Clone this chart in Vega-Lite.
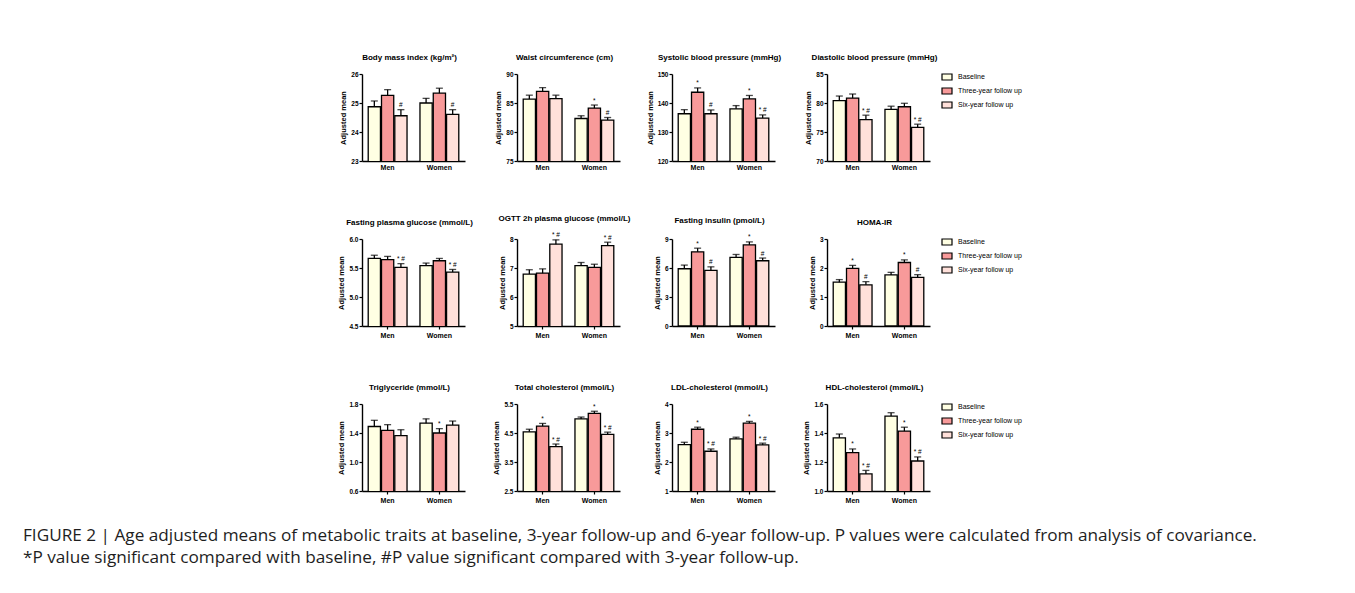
{
"$schema": "https://vega.github.io/schema/vega-lite/v6.json",
"background": "white",
"padding": {"left": 22, "top": 54, "right": 5, "bottom": 5},
"datasets": {"d": [
{"p":1,"s":"Men","t":"Baseline","m":24.87,"h":25.07,"n":""},
{"p":1,"s":"Men","t":"Three-year follow up","m":25.26,"h":25.46,"n":""},
{"p":1,"s":"Men","t":"Six-year follow up","m":24.56,"h":24.77,"n":"#"},
{"p":1,"s":"Women","t":"Baseline","m":25.0,"h":25.16,"n":""},
{"p":1,"s":"Women","t":"Three-year follow up","m":25.34,"h":25.51,"n":""},
{"p":1,"s":"Women","t":"Six-year follow up","m":24.61,"h":24.77,"n":"#"},
{"p":2,"s":"Men","t":"Baseline","m":85.67,"h":86.35,"n":""},
{"p":2,"s":"Men","t":"Three-year follow up","m":87.0,"h":87.65,"n":""},
{"p":2,"s":"Men","t":"Six-year follow up","m":85.75,"h":86.35,"n":""},
{"p":2,"s":"Women","t":"Baseline","m":82.33,"h":82.8,"n":""},
{"p":2,"s":"Women","t":"Three-year follow up","m":84.12,"h":84.65,"n":"*"},
{"p":2,"s":"Women","t":"Six-year follow up","m":82.05,"h":82.5,"n":"#"},
{"p":3,"s":"Men","t":"Baseline","m":136.3,"h":137.7,"n":""},
{"p":3,"s":"Men","t":"Three-year follow up","m":143.7,"h":145.2,"n":"*"},
{"p":3,"s":"Men","t":"Six-year follow up","m":136.3,"h":137.6,"n":"#"},
{"p":3,"s":"Women","t":"Baseline","m":138.0,"h":139.1,"n":""},
{"p":3,"s":"Women","t":"Three-year follow up","m":141.4,"h":142.6,"n":"*"},
{"p":3,"s":"Women","t":"Six-year follow up","m":134.8,"h":135.9,"n":"* #"},
{"p":4,"s":"Men","t":"Baseline","m":80.4,"h":81.2,"n":""},
{"p":4,"s":"Men","t":"Three-year follow up","m":80.85,"h":81.55,"n":""},
{"p":4,"s":"Men","t":"Six-year follow up","m":77.15,"h":77.9,"n":"* #"},
{"p":4,"s":"Women","t":"Baseline","m":78.9,"h":79.45,"n":""},
{"p":4,"s":"Women","t":"Three-year follow up","m":79.35,"h":79.95,"n":""},
{"p":4,"s":"Women","t":"Six-year follow up","m":75.8,"h":76.35,"n":"* #"},
{"p":5,"s":"Men","t":"Baseline","m":5.665,"h":5.72,"n":""},
{"p":5,"s":"Men","t":"Three-year follow up","m":5.645,"h":5.7,"n":""},
{"p":5,"s":"Men","t":"Six-year follow up","m":5.51,"h":5.575,"n":"* #"},
{"p":5,"s":"Women","t":"Baseline","m":5.54,"h":5.585,"n":""},
{"p":5,"s":"Women","t":"Three-year follow up","m":5.625,"h":5.665,"n":""},
{"p":5,"s":"Women","t":"Six-year follow up","m":5.43,"h":5.475,"n":"* #"},
{"p":6,"s":"Men","t":"Baseline","m":6.79,"h":6.94,"n":""},
{"p":6,"s":"Men","t":"Three-year follow up","m":6.82,"h":6.97,"n":""},
{"p":6,"s":"Men","t":"Six-year follow up","m":7.82,"h":7.97,"n":"* #"},
{"p":6,"s":"Women","t":"Baseline","m":7.08,"h":7.19,"n":""},
{"p":6,"s":"Women","t":"Three-year follow up","m":7.02,"h":7.13,"n":""},
{"p":6,"s":"Women","t":"Six-year follow up","m":7.77,"h":7.89,"n":"* #"},
{"p":7,"s":"Men","t":"Baseline","m":5.92,"h":6.3,"n":""},
{"p":7,"s":"Men","t":"Three-year follow up","m":7.67,"h":8.05,"n":"*"},
{"p":7,"s":"Men","t":"Six-year follow up","m":5.75,"h":6.12,"n":"#"},
{"p":7,"s":"Women","t":"Baseline","m":7.09,"h":7.4,"n":""},
{"p":7,"s":"Women","t":"Three-year follow up","m":8.39,"h":8.7,"n":"*"},
{"p":7,"s":"Women","t":"Six-year follow up","m":6.75,"h":7.03,"n":"#"},
{"p":8,"s":"Men","t":"Baseline","m":1.51,"h":1.6,"n":""},
{"p":8,"s":"Men","t":"Three-year follow up","m":1.99,"h":2.09,"n":"*"},
{"p":8,"s":"Men","t":"Six-year follow up","m":1.42,"h":1.53,"n":"#"},
{"p":8,"s":"Women","t":"Baseline","m":1.76,"h":1.85,"n":""},
{"p":8,"s":"Women","t":"Three-year follow up","m":2.19,"h":2.28,"n":"*"},
{"p":8,"s":"Women","t":"Six-year follow up","m":1.68,"h":1.77,"n":"#"},
{"p":9,"s":"Men","t":"Baseline","m":1.49,"h":1.575,"n":""},
{"p":9,"s":"Men","t":"Three-year follow up","m":1.435,"h":1.515,"n":""},
{"p":9,"s":"Men","t":"Six-year follow up","m":1.365,"h":1.445,"n":""},
{"p":9,"s":"Women","t":"Baseline","m":1.535,"h":1.595,"n":""},
{"p":9,"s":"Women","t":"Three-year follow up","m":1.4,"h":1.46,"n":"*"},
{"p":9,"s":"Women","t":"Six-year follow up","m":1.51,"h":1.565,"n":""},
{"p":10,"s":"Men","t":"Baseline","m":4.54,"h":4.63,"n":""},
{"p":10,"s":"Men","t":"Three-year follow up","m":4.74,"h":4.83,"n":"*"},
{"p":10,"s":"Men","t":"Six-year follow up","m":4.03,"h":4.12,"n":"* #"},
{"p":10,"s":"Women","t":"Baseline","m":4.985,"h":5.05,"n":""},
{"p":10,"s":"Women","t":"Three-year follow up","m":5.18,"h":5.25,"n":"*"},
{"p":10,"s":"Women","t":"Six-year follow up","m":4.45,"h":4.53,"n":"* #"},
{"p":11,"s":"Men","t":"Baseline","m":2.6,"h":2.68,"n":""},
{"p":11,"s":"Men","t":"Three-year follow up","m":3.13,"h":3.2,"n":"*"},
{"p":11,"s":"Men","t":"Six-year follow up","m":2.37,"h":2.45,"n":"* #"},
{"p":11,"s":"Women","t":"Baseline","m":2.8,"h":2.855,"n":""},
{"p":11,"s":"Women","t":"Three-year follow up","m":3.34,"h":3.4,"n":"*"},
{"p":11,"s":"Women","t":"Six-year follow up","m":2.59,"h":2.65,"n":"* #"},
{"p":12,"s":"Men","t":"Baseline","m":1.367,"h":1.393,"n":""},
{"p":12,"s":"Men","t":"Three-year follow up","m":1.265,"h":1.29,"n":"*"},
{"p":12,"s":"Men","t":"Six-year follow up","m":1.118,"h":1.142,"n":"* #"},
{"p":12,"s":"Women","t":"Baseline","m":1.517,"h":1.54,"n":""},
{"p":12,"s":"Women","t":"Three-year follow up","m":1.413,"h":1.44,"n":"*"},
{"p":12,"s":"Women","t":"Six-year follow up","m":1.207,"h":1.235,"n":"* #"}
]},
"title": {"text": ["FIGURE 2 | Age adjusted means of metabolic traits at baseline, 3-year follow-up and 6-year follow-up. P values were calculated from analysis of covariance.", "*P value significant compared with baseline, #P value significant compared with 3-year follow-up."], "orient": "bottom", "anchor": "start", "frame": "bounds", "dx": -315, "offset": 24, "fontSize": 17.2, "fontWeight": "normal", "lineHeight": 22, "color": "#1e1e1e", "font": "Open Sans"},
"columns": 4,
"spacing": {"row": 78, "column": 52},
"bounds": "flush",
"resolve": {"scale": {"x": "independent", "y": "independent", "fill": "independent"}, "axis": {"x": "independent", "y": "independent"}, "legend": {"fill": "independent"}},
"concat": [
{"title": "Body mass index (kg/m²)", "width": 103, "height": 87, "data": {"name": "d"}, "transform": [{"filter": "datum.p==1"}],
 "encoding": {"x": {"field": "s", "type": "nominal", "sort": ["Men","Women"], "title": null, "scale": {"paddingInner": 0.25, "paddingOuter": 0.12}, "axis": {"ticks": false}},
  "xOffset": {"field": "t", "type": "nominal", "sort": ["Baseline","Three-year follow up","Six-year follow up"], "scale": {"paddingInner": 0.08, "paddingOuter": 0}}},
 "layer": [
  {"mark": {"type": "bar", "stroke": "black", "strokeWidth": 1.3, "clip": true}, "encoding": {"y": {"field": "m", "type": "quantitative", "title": "Adjusted mean", "scale": {"domain": [23,26], "nice": false, "zero": false}, "axis": {"values": [23,24,25,26]}}, "fill": {"field": "t", "type": "nominal", "scale": {"domain": ["Baseline","Three-year follow up","Six-year follow up"], "range": ["#FFFFE3","#F89A9A","#FFE0DA"]}, "legend": null}}},
  {"mark": {"type": "rule", "color": "black", "strokeWidth": 1.3}, "encoding": {"y": {"field": "m", "type": "quantitative", "title": "Adjusted mean", "axis": {"values": [23,24,25,26]}}, "y2": {"field": "h"}}},
  {"mark": {"type": "tick", "color": "black", "thickness": 1.3, "size": 7}, "encoding": {"y": {"field": "h", "type": "quantitative", "title": "Adjusted mean", "axis": {"values": [23,24,25,26]}}}},
  {"mark": {"type": "text", "fontSize": 6.5, "baseline": "bottom", "dy": -1.5}, "encoding": {"y": {"field": "h", "type": "quantitative", "title": "Adjusted mean", "axis": {"values": [23,24,25,26]}}, "text": {"field": "n"}}}
 ]},
{"title": "Waist circumference (cm)", "width": 103, "height": 87, "data": {"name": "d"}, "transform": [{"filter": "datum.p==2"}],
 "encoding": {"x": {"field": "s", "type": "nominal", "sort": ["Men","Women"], "title": null, "scale": {"paddingInner": 0.25, "paddingOuter": 0.12}, "axis": {"ticks": false}},
  "xOffset": {"field": "t", "type": "nominal", "sort": ["Baseline","Three-year follow up","Six-year follow up"], "scale": {"paddingInner": 0.08, "paddingOuter": 0}}},
 "layer": [
  {"mark": {"type": "bar", "stroke": "black", "strokeWidth": 1.3, "clip": true}, "encoding": {"y": {"field": "m", "type": "quantitative", "title": "Adjusted mean", "scale": {"domain": [75,90], "nice": false, "zero": false}, "axis": {"values": [75,80,85,90]}}, "fill": {"field": "t", "type": "nominal", "scale": {"domain": ["Baseline","Three-year follow up","Six-year follow up"], "range": ["#FFFFE3","#F89A9A","#FFE0DA"]}, "legend": null}}},
  {"mark": {"type": "rule", "color": "black", "strokeWidth": 1.3}, "encoding": {"y": {"field": "m", "type": "quantitative", "title": "Adjusted mean", "axis": {"values": [75,80,85,90]}}, "y2": {"field": "h"}}},
  {"mark": {"type": "tick", "color": "black", "thickness": 1.3, "size": 7}, "encoding": {"y": {"field": "h", "type": "quantitative", "title": "Adjusted mean", "axis": {"values": [75,80,85,90]}}}},
  {"mark": {"type": "text", "fontSize": 6.5, "baseline": "bottom", "dy": -1.5}, "encoding": {"y": {"field": "h", "type": "quantitative", "title": "Adjusted mean", "axis": {"values": [75,80,85,90]}}, "text": {"field": "n"}}}
 ]},
{"title": "Systolic blood pressure (mmHg)", "width": 103, "height": 87, "data": {"name": "d"}, "transform": [{"filter": "datum.p==3"}],
 "encoding": {"x": {"field": "s", "type": "nominal", "sort": ["Men","Women"], "title": null, "scale": {"paddingInner": 0.25, "paddingOuter": 0.12}, "axis": {"ticks": false}},
  "xOffset": {"field": "t", "type": "nominal", "sort": ["Baseline","Three-year follow up","Six-year follow up"], "scale": {"paddingInner": 0.08, "paddingOuter": 0}}},
 "layer": [
  {"mark": {"type": "bar", "stroke": "black", "strokeWidth": 1.3, "clip": true}, "encoding": {"y": {"field": "m", "type": "quantitative", "title": "Adjusted mean", "scale": {"domain": [120,150], "nice": false, "zero": false}, "axis": {"values": [120,130,140,150]}}, "fill": {"field": "t", "type": "nominal", "scale": {"domain": ["Baseline","Three-year follow up","Six-year follow up"], "range": ["#FFFFE3","#F89A9A","#FFE0DA"]}, "legend": null}}},
  {"mark": {"type": "rule", "color": "black", "strokeWidth": 1.3}, "encoding": {"y": {"field": "m", "type": "quantitative", "title": "Adjusted mean", "axis": {"values": [120,130,140,150]}}, "y2": {"field": "h"}}},
  {"mark": {"type": "tick", "color": "black", "thickness": 1.3, "size": 7}, "encoding": {"y": {"field": "h", "type": "quantitative", "title": "Adjusted mean", "axis": {"values": [120,130,140,150]}}}},
  {"mark": {"type": "text", "fontSize": 6.5, "baseline": "bottom", "dy": -1.5}, "encoding": {"y": {"field": "h", "type": "quantitative", "title": "Adjusted mean", "axis": {"values": [120,130,140,150]}}, "text": {"field": "n"}}}
 ]},
{"title": "Diastolic blood pressure (mmHg)", "width": 103, "height": 87, "data": {"name": "d"}, "transform": [{"filter": "datum.p==4"}],
 "encoding": {"x": {"field": "s", "type": "nominal", "sort": ["Men","Women"], "title": null, "scale": {"paddingInner": 0.25, "paddingOuter": 0.12}, "axis": {"ticks": false}},
  "xOffset": {"field": "t", "type": "nominal", "sort": ["Baseline","Three-year follow up","Six-year follow up"], "scale": {"paddingInner": 0.08, "paddingOuter": 0}}},
 "layer": [
  {"mark": {"type": "bar", "stroke": "black", "strokeWidth": 1.3, "clip": true}, "encoding": {"y": {"field": "m", "type": "quantitative", "title": "Adjusted mean", "scale": {"domain": [70,85], "nice": false, "zero": false}, "axis": {"values": [70,75,80,85]}}, "fill": {"field": "t", "type": "nominal", "scale": {"domain": ["Baseline","Three-year follow up","Six-year follow up"], "range": ["#FFFFE3","#F89A9A","#FFE0DA"]}, "legend": {"title": null, "orient": "none", "legendX": 114, "legendY": -3}}}},
  {"mark": {"type": "rule", "color": "black", "strokeWidth": 1.3}, "encoding": {"y": {"field": "m", "type": "quantitative", "title": "Adjusted mean", "axis": {"values": [70,75,80,85]}}, "y2": {"field": "h"}}},
  {"mark": {"type": "tick", "color": "black", "thickness": 1.3, "size": 7}, "encoding": {"y": {"field": "h", "type": "quantitative", "title": "Adjusted mean", "axis": {"values": [70,75,80,85]}}}},
  {"mark": {"type": "text", "fontSize": 6.5, "baseline": "bottom", "dy": -1.5}, "encoding": {"y": {"field": "h", "type": "quantitative", "title": "Adjusted mean", "axis": {"values": [70,75,80,85]}}, "text": {"field": "n"}}}
 ]},
{"title": "Fasting plasma glucose (mmol/L)", "width": 103, "height": 87, "data": {"name": "d"}, "transform": [{"filter": "datum.p==5"}],
 "encoding": {"x": {"field": "s", "type": "nominal", "sort": ["Men","Women"], "title": null, "scale": {"paddingInner": 0.25, "paddingOuter": 0.12}},
  "xOffset": {"field": "t", "type": "nominal", "sort": ["Baseline","Three-year follow up","Six-year follow up"], "scale": {"paddingInner": 0.08, "paddingOuter": 0}}},
 "layer": [
  {"mark": {"type": "bar", "stroke": "black", "strokeWidth": 1.3, "clip": true}, "encoding": {"y": {"field": "m", "type": "quantitative", "title": "Adjusted mean", "scale": {"domain": [4.5,6], "nice": false, "zero": false}, "axis": {"values": [4.5,5,5.5,6], "format": ".1f"}}, "fill": {"field": "t", "type": "nominal", "scale": {"domain": ["Baseline","Three-year follow up","Six-year follow up"], "range": ["#FFFFE3","#F89A9A","#FFE0DA"]}, "legend": null}}},
  {"mark": {"type": "rule", "color": "black", "strokeWidth": 1.3}, "encoding": {"y": {"field": "m", "type": "quantitative", "title": "Adjusted mean", "axis": {"values": [4.5,5,5.5,6], "format": ".1f"}}, "y2": {"field": "h"}}},
  {"mark": {"type": "tick", "color": "black", "thickness": 1.3, "size": 7}, "encoding": {"y": {"field": "h", "type": "quantitative", "title": "Adjusted mean", "axis": {"values": [4.5,5,5.5,6], "format": ".1f"}}}},
  {"mark": {"type": "text", "fontSize": 6.5, "baseline": "bottom", "dy": -1.5}, "encoding": {"y": {"field": "h", "type": "quantitative", "title": "Adjusted mean", "axis": {"values": [4.5,5,5.5,6], "format": ".1f"}}, "text": {"field": "n"}}}
 ]},
{"title": "OGTT 2h plasma glucose (mmol/L)", "width": 103, "height": 87, "data": {"name": "d"}, "transform": [{"filter": "datum.p==6"}],
 "encoding": {"x": {"field": "s", "type": "nominal", "sort": ["Men","Women"], "title": null, "scale": {"paddingInner": 0.25, "paddingOuter": 0.12}},
  "xOffset": {"field": "t", "type": "nominal", "sort": ["Baseline","Three-year follow up","Six-year follow up"], "scale": {"paddingInner": 0.08, "paddingOuter": 0}}},
 "layer": [
  {"mark": {"type": "bar", "stroke": "black", "strokeWidth": 1.3, "clip": true}, "encoding": {"y": {"field": "m", "type": "quantitative", "title": "Adjusted mean", "scale": {"domain": [5,8], "nice": false, "zero": false}, "axis": {"values": [5,6,7,8]}}, "fill": {"field": "t", "type": "nominal", "scale": {"domain": ["Baseline","Three-year follow up","Six-year follow up"], "range": ["#FFFFE3","#F89A9A","#FFE0DA"]}, "legend": null}}},
  {"mark": {"type": "rule", "color": "black", "strokeWidth": 1.3}, "encoding": {"y": {"field": "m", "type": "quantitative", "title": "Adjusted mean", "axis": {"values": [5,6,7,8]}}, "y2": {"field": "h"}}},
  {"mark": {"type": "tick", "color": "black", "thickness": 1.3, "size": 7}, "encoding": {"y": {"field": "h", "type": "quantitative", "title": "Adjusted mean", "axis": {"values": [5,6,7,8]}}}},
  {"mark": {"type": "text", "fontSize": 6.5, "baseline": "bottom", "dy": -1.5}, "encoding": {"y": {"field": "h", "type": "quantitative", "title": "Adjusted mean", "axis": {"values": [5,6,7,8]}}, "text": {"field": "n"}}}
 ]},
{"title": "Fasting insulin (pmol/L)", "width": 103, "height": 87, "data": {"name": "d"}, "transform": [{"filter": "datum.p==7"}],
 "encoding": {"x": {"field": "s", "type": "nominal", "sort": ["Men","Women"], "title": null, "scale": {"paddingInner": 0.25, "paddingOuter": 0.12}},
  "xOffset": {"field": "t", "type": "nominal", "sort": ["Baseline","Three-year follow up","Six-year follow up"], "scale": {"paddingInner": 0.08, "paddingOuter": 0}}},
 "layer": [
  {"mark": {"type": "bar", "stroke": "black", "strokeWidth": 1.3, "clip": true}, "encoding": {"y": {"field": "m", "type": "quantitative", "title": "Adjusted mean", "scale": {"domain": [0,9], "nice": false}, "axis": {"values": [0,3,6,9]}}, "fill": {"field": "t", "type": "nominal", "scale": {"domain": ["Baseline","Three-year follow up","Six-year follow up"], "range": ["#FFFFE3","#F89A9A","#FFE0DA"]}, "legend": null}}},
  {"mark": {"type": "rule", "color": "black", "strokeWidth": 1.3}, "encoding": {"y": {"field": "m", "type": "quantitative", "title": "Adjusted mean", "axis": {"values": [0,3,6,9]}}, "y2": {"field": "h"}}},
  {"mark": {"type": "tick", "color": "black", "thickness": 1.3, "size": 7}, "encoding": {"y": {"field": "h", "type": "quantitative", "title": "Adjusted mean", "axis": {"values": [0,3,6,9]}}}},
  {"mark": {"type": "text", "fontSize": 6.5, "baseline": "bottom", "dy": -1.5}, "encoding": {"y": {"field": "h", "type": "quantitative", "title": "Adjusted mean", "axis": {"values": [0,3,6,9]}}, "text": {"field": "n"}}}
 ]},
{"title": "HOMA-IR", "width": 103, "height": 87, "data": {"name": "d"}, "transform": [{"filter": "datum.p==8"}],
 "encoding": {"x": {"field": "s", "type": "nominal", "sort": ["Men","Women"], "title": null, "scale": {"paddingInner": 0.25, "paddingOuter": 0.12}},
  "xOffset": {"field": "t", "type": "nominal", "sort": ["Baseline","Three-year follow up","Six-year follow up"], "scale": {"paddingInner": 0.08, "paddingOuter": 0}}},
 "layer": [
  {"mark": {"type": "bar", "stroke": "black", "strokeWidth": 1.3, "clip": true}, "encoding": {"y": {"field": "m", "type": "quantitative", "title": "Adjusted mean", "scale": {"domain": [0,3], "nice": false}, "axis": {"values": [0,1,2,3]}}, "fill": {"field": "t", "type": "nominal", "scale": {"domain": ["Baseline","Three-year follow up","Six-year follow up"], "range": ["#FFFFE3","#F89A9A","#FFE0DA"]}, "legend": {"title": null, "orient": "none", "legendX": 114, "legendY": -3}}}},
  {"mark": {"type": "rule", "color": "black", "strokeWidth": 1.3}, "encoding": {"y": {"field": "m", "type": "quantitative", "title": "Adjusted mean", "axis": {"values": [0,1,2,3]}}, "y2": {"field": "h"}}},
  {"mark": {"type": "tick", "color": "black", "thickness": 1.3, "size": 7}, "encoding": {"y": {"field": "h", "type": "quantitative", "title": "Adjusted mean", "axis": {"values": [0,1,2,3]}}}},
  {"mark": {"type": "text", "fontSize": 6.5, "baseline": "bottom", "dy": -1.5}, "encoding": {"y": {"field": "h", "type": "quantitative", "title": "Adjusted mean", "axis": {"values": [0,1,2,3]}}, "text": {"field": "n"}}}
 ]},
{"title": "Triglyceride (mmol/L)", "width": 103, "height": 87, "data": {"name": "d"}, "transform": [{"filter": "datum.p==9"}],
 "encoding": {"x": {"field": "s", "type": "nominal", "sort": ["Men","Women"], "title": null, "scale": {"paddingInner": 0.25, "paddingOuter": 0.12}},
  "xOffset": {"field": "t", "type": "nominal", "sort": ["Baseline","Three-year follow up","Six-year follow up"], "scale": {"paddingInner": 0.08, "paddingOuter": 0}}},
 "layer": [
  {"mark": {"type": "bar", "stroke": "black", "strokeWidth": 1.3, "clip": true}, "encoding": {"y": {"field": "m", "type": "quantitative", "title": "Adjusted mean", "scale": {"domain": [0.6,1.8], "nice": false, "zero": false}, "axis": {"values": [0.6,1.0,1.4,1.8], "format": ".1f"}}, "fill": {"field": "t", "type": "nominal", "scale": {"domain": ["Baseline","Three-year follow up","Six-year follow up"], "range": ["#FFFFE3","#F89A9A","#FFE0DA"]}, "legend": null}}},
  {"mark": {"type": "rule", "color": "black", "strokeWidth": 1.3}, "encoding": {"y": {"field": "m", "type": "quantitative", "title": "Adjusted mean", "axis": {"values": [0.6,1.0,1.4,1.8], "format": ".1f"}}, "y2": {"field": "h"}}},
  {"mark": {"type": "tick", "color": "black", "thickness": 1.3, "size": 7}, "encoding": {"y": {"field": "h", "type": "quantitative", "title": "Adjusted mean", "axis": {"values": [0.6,1.0,1.4,1.8], "format": ".1f"}}}},
  {"mark": {"type": "text", "fontSize": 6.5, "baseline": "bottom", "dy": -1.5}, "encoding": {"y": {"field": "h", "type": "quantitative", "title": "Adjusted mean", "axis": {"values": [0.6,1.0,1.4,1.8], "format": ".1f"}}, "text": {"field": "n"}}}
 ]},
{"title": "Total cholesterol (mmol/L)", "width": 103, "height": 87, "data": {"name": "d"}, "transform": [{"filter": "datum.p==10"}],
 "encoding": {"x": {"field": "s", "type": "nominal", "sort": ["Men","Women"], "title": null, "scale": {"paddingInner": 0.25, "paddingOuter": 0.12}},
  "xOffset": {"field": "t", "type": "nominal", "sort": ["Baseline","Three-year follow up","Six-year follow up"], "scale": {"paddingInner": 0.08, "paddingOuter": 0}}},
 "layer": [
  {"mark": {"type": "bar", "stroke": "black", "strokeWidth": 1.3, "clip": true}, "encoding": {"y": {"field": "m", "type": "quantitative", "title": "Adjusted mean", "scale": {"domain": [2.5,5.5], "nice": false, "zero": false}, "axis": {"values": [2.5,3.5,4.5,5.5], "format": ".1f"}}, "fill": {"field": "t", "type": "nominal", "scale": {"domain": ["Baseline","Three-year follow up","Six-year follow up"], "range": ["#FFFFE3","#F89A9A","#FFE0DA"]}, "legend": null}}},
  {"mark": {"type": "rule", "color": "black", "strokeWidth": 1.3}, "encoding": {"y": {"field": "m", "type": "quantitative", "title": "Adjusted mean", "axis": {"values": [2.5,3.5,4.5,5.5], "format": ".1f"}}, "y2": {"field": "h"}}},
  {"mark": {"type": "tick", "color": "black", "thickness": 1.3, "size": 7}, "encoding": {"y": {"field": "h", "type": "quantitative", "title": "Adjusted mean", "axis": {"values": [2.5,3.5,4.5,5.5], "format": ".1f"}}}},
  {"mark": {"type": "text", "fontSize": 6.5, "baseline": "bottom", "dy": -1.5}, "encoding": {"y": {"field": "h", "type": "quantitative", "title": "Adjusted mean", "axis": {"values": [2.5,3.5,4.5,5.5], "format": ".1f"}}, "text": {"field": "n"}}}
 ]},
{"title": "LDL-cholesterol (mmol/L)", "width": 103, "height": 87, "data": {"name": "d"}, "transform": [{"filter": "datum.p==11"}],
 "encoding": {"x": {"field": "s", "type": "nominal", "sort": ["Men","Women"], "title": null, "scale": {"paddingInner": 0.25, "paddingOuter": 0.12}},
  "xOffset": {"field": "t", "type": "nominal", "sort": ["Baseline","Three-year follow up","Six-year follow up"], "scale": {"paddingInner": 0.08, "paddingOuter": 0}}},
 "layer": [
  {"mark": {"type": "bar", "stroke": "black", "strokeWidth": 1.3, "clip": true}, "encoding": {"y": {"field": "m", "type": "quantitative", "title": "Adjusted mean", "scale": {"domain": [1,4], "nice": false, "zero": false}, "axis": {"values": [1,2,3,4]}}, "fill": {"field": "t", "type": "nominal", "scale": {"domain": ["Baseline","Three-year follow up","Six-year follow up"], "range": ["#FFFFE3","#F89A9A","#FFE0DA"]}, "legend": null}}},
  {"mark": {"type": "rule", "color": "black", "strokeWidth": 1.3}, "encoding": {"y": {"field": "m", "type": "quantitative", "title": "Adjusted mean", "axis": {"values": [1,2,3,4]}}, "y2": {"field": "h"}}},
  {"mark": {"type": "tick", "color": "black", "thickness": 1.3, "size": 7}, "encoding": {"y": {"field": "h", "type": "quantitative", "title": "Adjusted mean", "axis": {"values": [1,2,3,4]}}}},
  {"mark": {"type": "text", "fontSize": 6.5, "baseline": "bottom", "dy": -1.5}, "encoding": {"y": {"field": "h", "type": "quantitative", "title": "Adjusted mean", "axis": {"values": [1,2,3,4]}}, "text": {"field": "n"}}}
 ]},
{"title": "HDL-cholesterol (mmol/L)", "width": 103, "height": 87, "data": {"name": "d"}, "transform": [{"filter": "datum.p==12"}],
 "encoding": {"x": {"field": "s", "type": "nominal", "sort": ["Men","Women"], "title": null, "scale": {"paddingInner": 0.25, "paddingOuter": 0.12}},
  "xOffset": {"field": "t", "type": "nominal", "sort": ["Baseline","Three-year follow up","Six-year follow up"], "scale": {"paddingInner": 0.08, "paddingOuter": 0}}},
 "layer": [
  {"mark": {"type": "bar", "stroke": "black", "strokeWidth": 1.3, "clip": true}, "encoding": {"y": {"field": "m", "type": "quantitative", "title": "Adjusted mean", "scale": {"domain": [1.0,1.6], "nice": false, "zero": false}, "axis": {"values": [1.0,1.2,1.4,1.6], "format": ".1f"}}, "fill": {"field": "t", "type": "nominal", "scale": {"domain": ["Baseline","Three-year follow up","Six-year follow up"], "range": ["#FFFFE3","#F89A9A","#FFE0DA"]}, "legend": {"title": null, "orient": "none", "legendX": 114, "legendY": -3}}}},
  {"mark": {"type": "rule", "color": "black", "strokeWidth": 1.3}, "encoding": {"y": {"field": "m", "type": "quantitative", "title": "Adjusted mean", "axis": {"values": [1.0,1.2,1.4,1.6], "format": ".1f"}}, "y2": {"field": "h"}}},
  {"mark": {"type": "tick", "color": "black", "thickness": 1.3, "size": 7}, "encoding": {"y": {"field": "h", "type": "quantitative", "title": "Adjusted mean", "axis": {"values": [1.0,1.2,1.4,1.6], "format": ".1f"}}}},
  {"mark": {"type": "text", "fontSize": 6.5, "baseline": "bottom", "dy": -1.5}, "encoding": {"y": {"field": "h", "type": "quantitative", "title": "Adjusted mean", "axis": {"values": [1.0,1.2,1.4,1.6], "format": ".1f"}}, "text": {"field": "n"}}}
 ]}
],
"config": {
 "font": "Liberation Sans",
 "view": {"stroke": null},
 "axis": {"domainColor": "black", "domainWidth": 1.4, "tickColor": "black", "tickWidth": 1.2, "tickSize": 3, "labelFontWeight": "bold", "labelColor": "black", "labelFontSize": 6.5, "titleFontWeight": "bold", "titleFontSize": 7.5, "titleColor": "black", "grid": false},
 "axisX": {"labelAngle": 0, "labelFontSize": 7, "labelPadding": 2},
 "axisY": {"labelPadding": 1, "titlePadding": 3},
 "title": {"fontSize": 8, "fontWeight": "bold", "color": "black", "anchor": "middle", "frame": "group", "dx": -4, "offset": 9},
 "legend": {"labelFontSize": 7, "labelColor": "black", "symbolType": "M-1,-0.6H1V0.6H-1Z", "symbolSize": 100, "symbolStrokeColor": "black", "symbolStrokeWidth": 1.2, "rowPadding": 2, "padding": 0, "labelOffset": 5}
}
}
